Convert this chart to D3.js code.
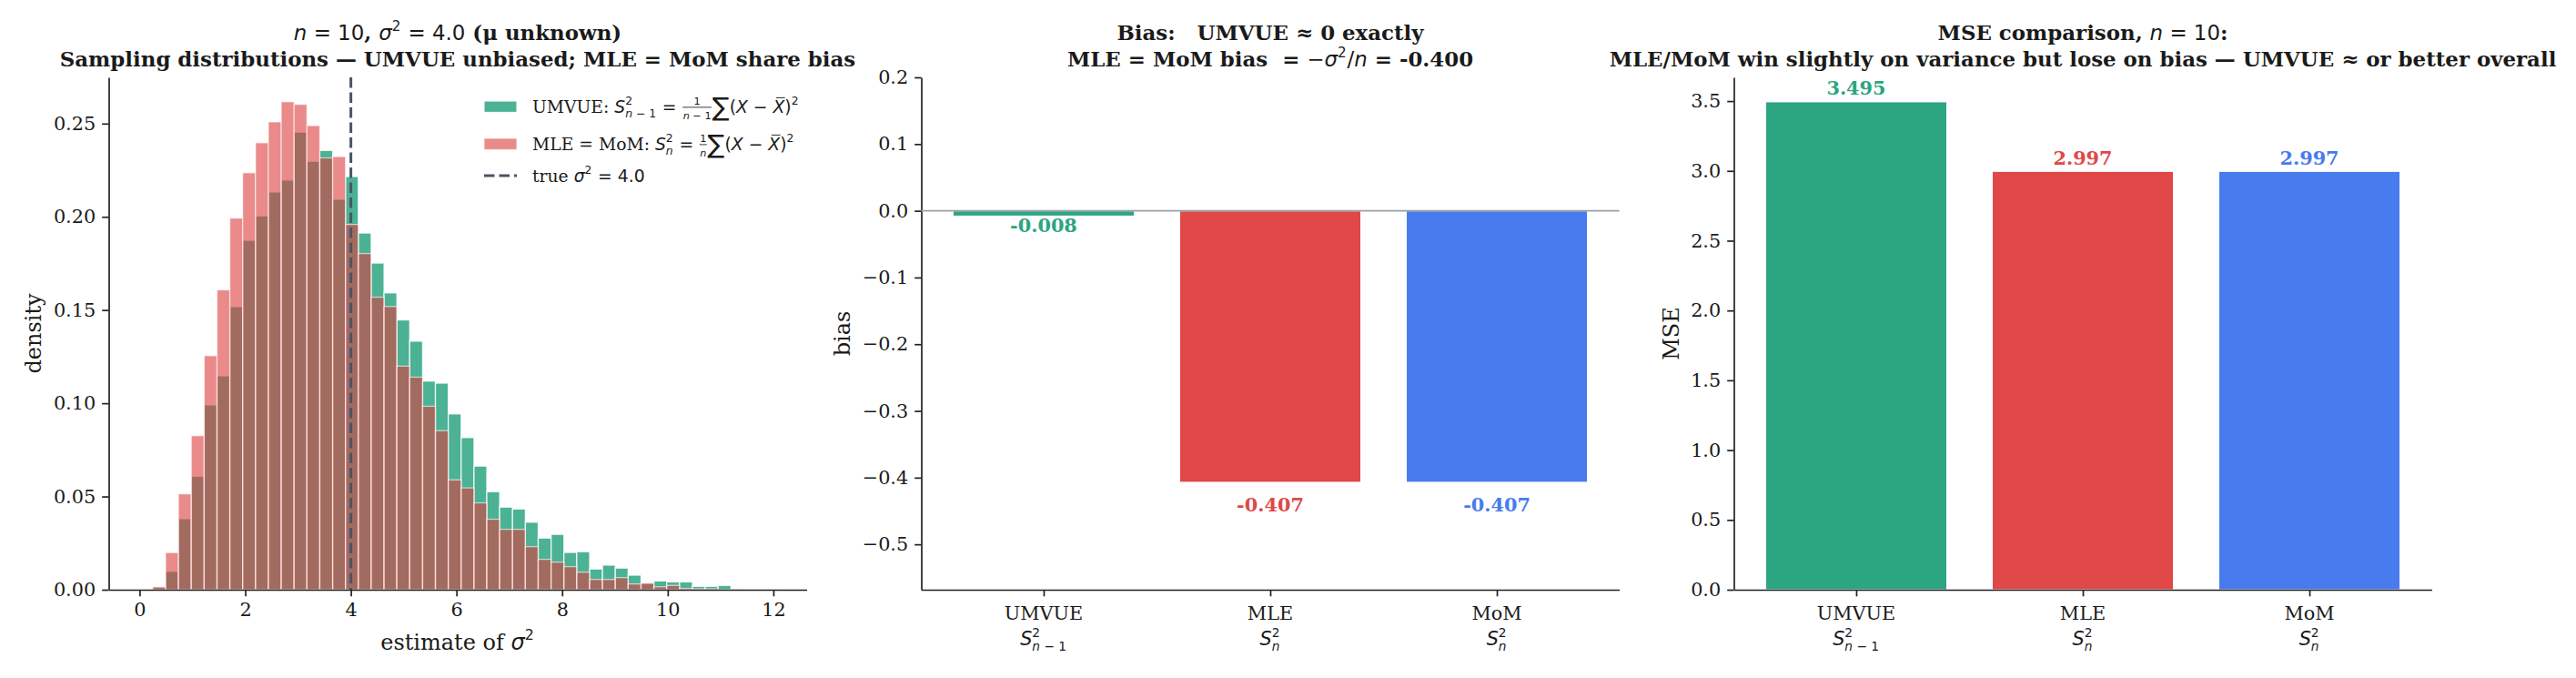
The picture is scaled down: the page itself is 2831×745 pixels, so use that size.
<!DOCTYPE html>
<html><head><meta charset="utf-8">
<script src="https://cdn.jsdelivr.net/npm/d3@7"></script>
<style>body{margin:0;background:#fff} svg text{white-space:pre}</style>
</head><body>
<svg id="c" width="2831" height="745" xmlns="http://www.w3.org/2000/svg"></svg>
<script>
// ---------------- DATA ----------------
const binEdges = [0.005,0.248,0.492,0.735,0.978,1.222,1.465,1.708,1.951,2.195,2.438,2.681,2.925,3.168,3.411,3.655,3.898,4.141,4.384,4.628,4.871,5.114,5.358,5.601,5.844,6.088,6.331,6.574,6.817,7.061,7.304,7.547,7.791,8.034,8.277,8.521,8.764,9.007,9.250,9.494,9.737,9.980,10.224,10.467,10.710,10.954,11.197,11.440,11.683,11.927,12.170];
const umvueDensity = [0,0.0012,0.0099,0.0381,0.0608,0.0991,0.1147,0.1518,0.1874,0.2005,0.2133,0.2197,0.2454,0.2298,0.2356,0.2094,0.2216,0.1913,0.1752,0.1592,0.1447,0.1333,0.1119,0.1108,0.0943,0.0816,0.0663,0.0526,0.0443,0.0433,0.0362,0.0277,0.0297,0.0200,0.0204,0.0111,0.0132,0.0116,0.0078,0.0033,0.0047,0.0042,0.0042,0.0018,0.0018,0.0023,0.0005,0.0002,0.0002,0.0001];
const mleDensity = [0,0.0016,0.0199,0.0514,0.0826,0.1255,0.1608,0.1993,0.2236,0.2397,0.2509,0.2617,0.2603,0.2489,0.2316,0.2323,0.1959,0.1803,0.1569,0.1519,0.1199,0.1140,0.0984,0.0853,0.0589,0.0546,0.0466,0.0378,0.0324,0.0324,0.0231,0.0163,0.0148,0.0124,0.0094,0.0055,0.0055,0.0065,0.0031,0.0036,0.0016,0.0023,0.0007,0.0005,0.0005,0,0,0,0,0];
const trueSigma2 = 4.0;
const estimators = ["UMVUE","MLE","MoM"];
const estimatorSubscripts = ["n−1","n","n"];
const biasValues = [-0.008,-0.407,-0.407];
const mseValues = [3.495,2.997,2.997];
const histXTicks = [0,2,4,6,8,10,12];
const histYTicks = [0,0.05,0.10,0.15,0.20,0.25];
const biasYTicks = [0.2,0.1,0,-0.1,-0.2,-0.3,-0.4,-0.5];
const mseYTicks = [0,0.5,1,1.5,2,2.5,3,3.5];

// ---------------- STYLE ----------------
const SERIF = "DejaVu Serif", SANS = "DejaVu Sans";
const GREEN = "#2ca581", RED = "#e04848", BLUE = "#487bee", HRED = "#dc3c3c";
const barColors = [GREEN, RED, BLUE];
const INK = "#1a1a1a";
const TICK_FS = 20.8, TITLE_FS = 22.9, LABEL_FS = 24, LEG_FS = 18.75;
const TOP = 85, BOT = 648, AW = 767;
const X0 = [119.5, 1012.5, 1905.5];

const svg = d3.select("#c").attr("xml:space","preserve");
svg.append("rect").attr("width",2831).attr("height",745).attr("fill","#fff");

// ------------- math text layout -------------
const mi = s => ({k:'t', s, fam:SANS, it:true});
const mr = s => ({k:'t', s, fam:SANS});
const tx = (s, b) => ({k:'t', s, fam:SERIF, b:!!b});
const SCR = 0.66;
function lay(g, items, x, y, size, color) {
  let cx = x;
  for (const it of items) {
    if (it.k === 't') {
      const t = g.append("text").attr("x", cx).attr("y", y + (it.dy||0)*size)
        .attr("font-family", it.fam).attr("font-size", size*(it.sc||1))
        .attr("font-weight", it.b ? "bold" : "normal")
        .attr("font-style", it.it ? "italic" : "normal")
        .attr("fill", color).text(it.s);
      cx += t.node().getComputedTextLength();
    } else if (it.k === 'ss') {
      const s = size*SCR;
      let w1 = 0, w2 = 0;
      if (it.sup) w1 = lay(g, it.sup, cx, y - 0.44*size, s, color);
      if (it.sub) w2 = lay(g, it.sub, cx, y + 0.3*size, s, color);
      cx += Math.max(w1, w2) + 0.04*size;
    } else if (it.k === 'frac') {
      const s = size*0.6;
      const gn = g.append("g"), gd = g.append("g");
      const wn = lay(gn, it.num, 0, 0, s, color), wd = lay(gd, it.den, 0, 0, s, color);
      const w = Math.max(wn, wd) + 0.12*size;
      gn.attr("transform", `translate(${cx + (w-wn)/2},${y - 0.45*size})`);
      gd.attr("transform", `translate(${cx + (w-wd)/2},${y + 0.4*size})`);
      g.append("line").attr("x1", cx + 0.04*size).attr("x2", cx + w - 0.04*size)
        .attr("y1", y - 0.3*size).attr("y2", y - 0.3*size)
        .attr("stroke", color).attr("stroke-width", 0.045*size);
      cx += w;
    } else if (it.k === 'bar') {
      const t = g.append("text").attr("x", cx).attr("y", y).attr("font-family", SANS)
        .attr("font-size", size).attr("font-style","italic").attr("fill", color).text(it.s);
      const w = t.node().getComputedTextLength();
      g.append("line").attr("x1", cx + 0.28*w).attr("x2", cx + w + 0.02*size)
        .attr("y1", y - 0.86*size).attr("y2", y - 0.86*size)
        .attr("stroke", color).attr("stroke-width", 0.05*size);
      cx += w;
    } else if (it.k === 'sp') {
      cx += it.w*size;
    }
  }
  return cx - x;
}
function mathText(parent, items, x, y, size, opts={}) {
  const g = parent.append("g");
  const w = lay(g, items, 0, 0, size, opts.color || INK);
  const a = opts.anchor || "start";
  const dx = a === "middle" ? -w/2 : a === "end" ? -w : 0;
  g.attr("transform", `translate(${x+dx},${y})`);
  return g;
}

function styleAxis(g) {
  g.select(".domain").attr("stroke", "#222").attr("stroke-width", 1.7);
  g.selectAll(".tick line").attr("stroke", "#222").attr("stroke-width", 1.7);
  g.selectAll(".tick text").attr("font-family", SERIF).attr("font-size", TICK_FS).attr("fill", INK);
}
function yLabel(text, x) {
  const g = svg.append("g").attr("transform", `translate(${x},${(TOP+BOT)/2}) rotate(-90)`);
  g.append("text").attr("text-anchor","middle").attr("font-family", SERIF)
    .attr("font-size", LABEL_FS).attr("fill", INK).text(text);
}

// ================= PANEL 1: histogram =================
{
  const x0 = X0[0];
  const xs = d3.scaleLinear().domain([-0.585, 12.63]).range([x0, x0 + AW]);
  const ys = d3.scaleLinear().domain([0, 0.2748]).range([BOT, TOP]);
  const gp = svg.append("g");
  const bins = d3.range(binEdges.length - 1);
  function drawHist(vals, color, alpha) {
    gp.append("g").selectAll("rect").data(bins.filter(i => vals[i] > 0)).join("rect")
      .attr("x", i => xs(binEdges[i])).attr("width", i => xs(binEdges[i+1]) - xs(binEdges[i]))
      .attr("y", i => ys(vals[i])).attr("height", i => ys(0) - ys(vals[i]))
      .attr("fill", color).attr("fill-opacity", alpha)
      .attr("stroke", "#fff").attr("stroke-opacity", alpha).attr("stroke-width", 1.3);
  }
  drawHist(umvueDensity, GREEN, 0.85);
  drawHist(mleDensity, HRED, 0.6);
  gp.append("line").attr("x1", xs(trueSigma2)).attr("x2", xs(trueSigma2))
    .attr("y1", TOP).attr("y2", BOT).attr("stroke", "#4b5466").attr("stroke-width", 3)
    .attr("stroke-dasharray", "11.5,5");

  const gx = svg.append("g").attr("transform", `translate(0,${BOT})`)
    .call(d3.axisBottom(xs).tickValues(histXTicks).tickFormat(d3.format("d")).tickSize(7.3).tickPadding(7).tickSizeOuter(0));
  styleAxis(gx);
  const gy = svg.append("g").attr("transform", `translate(${x0},0)`)
    .call(d3.axisLeft(ys).tickValues(histYTicks).tickFormat(d3.format(".2f")).tickSize(7.3).tickPadding(7).tickSizeOuter(0));
  styleAxis(gy);

  yLabel("density", 45);
  mathText(svg, [tx("estimate of "), mi("σ"), {k:'ss', sup:[mr("2")]}], x0 + AW/2, 714, LABEL_FS, {anchor:"middle"});

  const cx = x0 + AW/2;
  mathText(svg, [mi("n"), mr(" = 10"), tx(", ", true), mi("σ"), {k:'ss', sup:[mr("2")]}, mr(" = 4.0"), tx(" (μ unknown)", true)], cx, 44, TITLE_FS, {anchor:"middle"});
  mathText(svg, [tx("Sampling distributions — UMVUE unbiased; MLE = MoM share bias", true)], cx, 73, TITLE_FS, {anchor:"middle"});

  // legend
  const lx = 532, tx0 = 585;
  const rows = [117, 158, 193];
  svg.append("rect").attr("x", lx).attr("y", rows[0]-6).attr("width", 36).attr("height", 12.5)
    .attr("fill", GREEN).attr("fill-opacity", 0.85).attr("stroke", "#fff").attr("stroke-opacity", 0.85).attr("stroke-width", 1.3);
  svg.append("rect").attr("x", lx).attr("y", rows[1]-6).attr("width", 36).attr("height", 12.5)
    .attr("fill", HRED).attr("fill-opacity", 0.6).attr("stroke", "#fff").attr("stroke-opacity", 0.6).attr("stroke-width", 1.3);
  svg.append("line").attr("x1", lx).attr("x2", lx+36).attr("y1", rows[2]).attr("y2", rows[2])
    .attr("stroke", "#4b5466").attr("stroke-width", 3).attr("stroke-dasharray", "11.5,5");
  const sumSym = {k:'t', s:"∑", fam:SANS, sc:1.5, dy:0.2};
  const tail = [sumSym, mr("("), mi("X"), mr(" − "), {k:'bar', s:"X"}, mr(")"), {k:'ss', sup:[mr("2")]}];
  mathText(svg, [tx("UMVUE: "), mi("S"), {k:'ss', sup:[mr("2")], sub:[mi("n"), mr(" − 1")]}, mr(" = "),
    {k:'frac', num:[mr("1")], den:[mi("n"), mr(" − 1")]}, ...tail], tx0, rows[0]+6.5, LEG_FS);
  mathText(svg, [tx("MLE = MoM: "), mi("S"), {k:'ss', sup:[mr("2")], sub:[mi("n")]}, mr(" = "),
    {k:'frac', num:[mr("1")], den:[mi("n")]}, ...tail], tx0, rows[1]+6.5, LEG_FS);
  mathText(svg, [tx("true "), mi("σ"), {k:'ss', sup:[mr("2")]}, mr(" = 4.0")], tx0, rows[2]+6.5, LEG_FS);
}

// ============ shared bar-panel helpers ============
function barPanel(idx, vals, ydom, yticks, ylab, ylabX) {
  const x0 = X0[idx];
  const xs = d3.scaleLinear().domain([-0.54, 2.54]).range([x0, x0 + AW]);
  const ys = d3.scaleLinear().domain(ydom).range([BOT, TOP]);
  svg.append("g").selectAll("rect").data(vals).join("rect")
    .attr("x", (d,i) => xs(i - 0.4)).attr("width", (d,i) => xs(i + 0.4) - xs(i - 0.4))
    .attr("y", d => ys(Math.max(d, 0))).attr("height", d => Math.abs(ys(d) - ys(0)))
    .attr("fill", (d,i) => barColors[i]).attr("stroke", "#fff").attr("stroke-width", 1.2);
  const gx = svg.append("g").attr("transform", `translate(0,${BOT})`)
    .call(d3.axisBottom(xs).tickValues([0,1,2]).tickFormat("").tickSize(7.3).tickSizeOuter(0));
  styleAxis(gx);
  const gy = svg.append("g").attr("transform", `translate(${x0},0)`)
    .call(d3.axisLeft(ys).tickValues(yticks).tickFormat(d3.format(".1f")).tickSize(7.3).tickPadding(7).tickSizeOuter(0));
  styleAxis(gy);
  estimators.forEach((e, i) => {
    svg.append("text").attr("x", xs(i)).attr("y", 681).attr("text-anchor", "middle")
      .attr("font-family", SERIF).attr("font-size", TICK_FS).attr("fill", INK).text(e);
    const sub = estimatorSubscripts[i] === "n" ? [mi("n")] : [mi("n"), mr(" − 1")];
    mathText(svg, [mi("S"), {k:'ss', sup:[mr("2")], sub}], xs(i), 709, TICK_FS, {anchor:"middle"});
  });
  yLabel(ylab, ylabX);
  return {xs, ys, cx: x0 + AW/2};
}

// ================= PANEL 2: bias =================
{
  const {xs, ys, cx} = barPanel(1, biasValues, [-0.568, 0.2], biasYTicks, "bias", 934);
  svg.append("line").attr("x1", X0[1]).attr("x2", X0[1] + AW).attr("y1", ys(0)).attr("y2", ys(0))
    .attr("stroke", "#9aa0a8").attr("stroke-width", 1.9);
  biasValues.forEach((v, i) => {
    svg.append("text").attr("x", xs(i)).attr("y", ys(v*1.05) + 16.8).attr("text-anchor","middle")
      .attr("font-family", SERIF).attr("font-weight","bold").attr("font-size", TICK_FS)
      .attr("fill", barColors[i]).text(d3.format(".3f")(v).replace("−","-"));
  });
  mathText(svg, [tx("Bias:   UMVUE ≈ 0 exactly", true)], cx, 44, TITLE_FS, {anchor:"middle"});
  mathText(svg, [tx("MLE = MoM bias  = ", true), mr("−"), mi("σ"), {k:'ss', sup:[mr("2")]}, mr("/"), mi("n"), tx(" = -0.400", true)], cx, 73, TITLE_FS, {anchor:"middle"});
}

// ================= PANEL 3: MSE =================
{
  const {xs, ys, cx} = barPanel(2, mseValues, [0, 3.67], mseYTicks, "MSE", 1845);
  mseValues.forEach((v, i) => {
    svg.append("text").attr("x", xs(i)).attr("y", ys(v + 0.05)).attr("text-anchor","middle")
      .attr("font-family", SERIF).attr("font-weight","bold").attr("font-size", TICK_FS)
      .attr("fill", barColors[i]).text(d3.format(".3f")(v));
  });
  mathText(svg, [tx("MSE comparison, ", true), mi("n"), mr(" = 10"), tx(":", true)], cx, 44, TITLE_FS, {anchor:"middle"});
  mathText(svg, [tx("MLE/MoM win slightly on variance but lose on bias — UMVUE ≈ or better overall", true)], cx, 73, TITLE_FS, {anchor:"middle"});
}
</script>
</body></html>
